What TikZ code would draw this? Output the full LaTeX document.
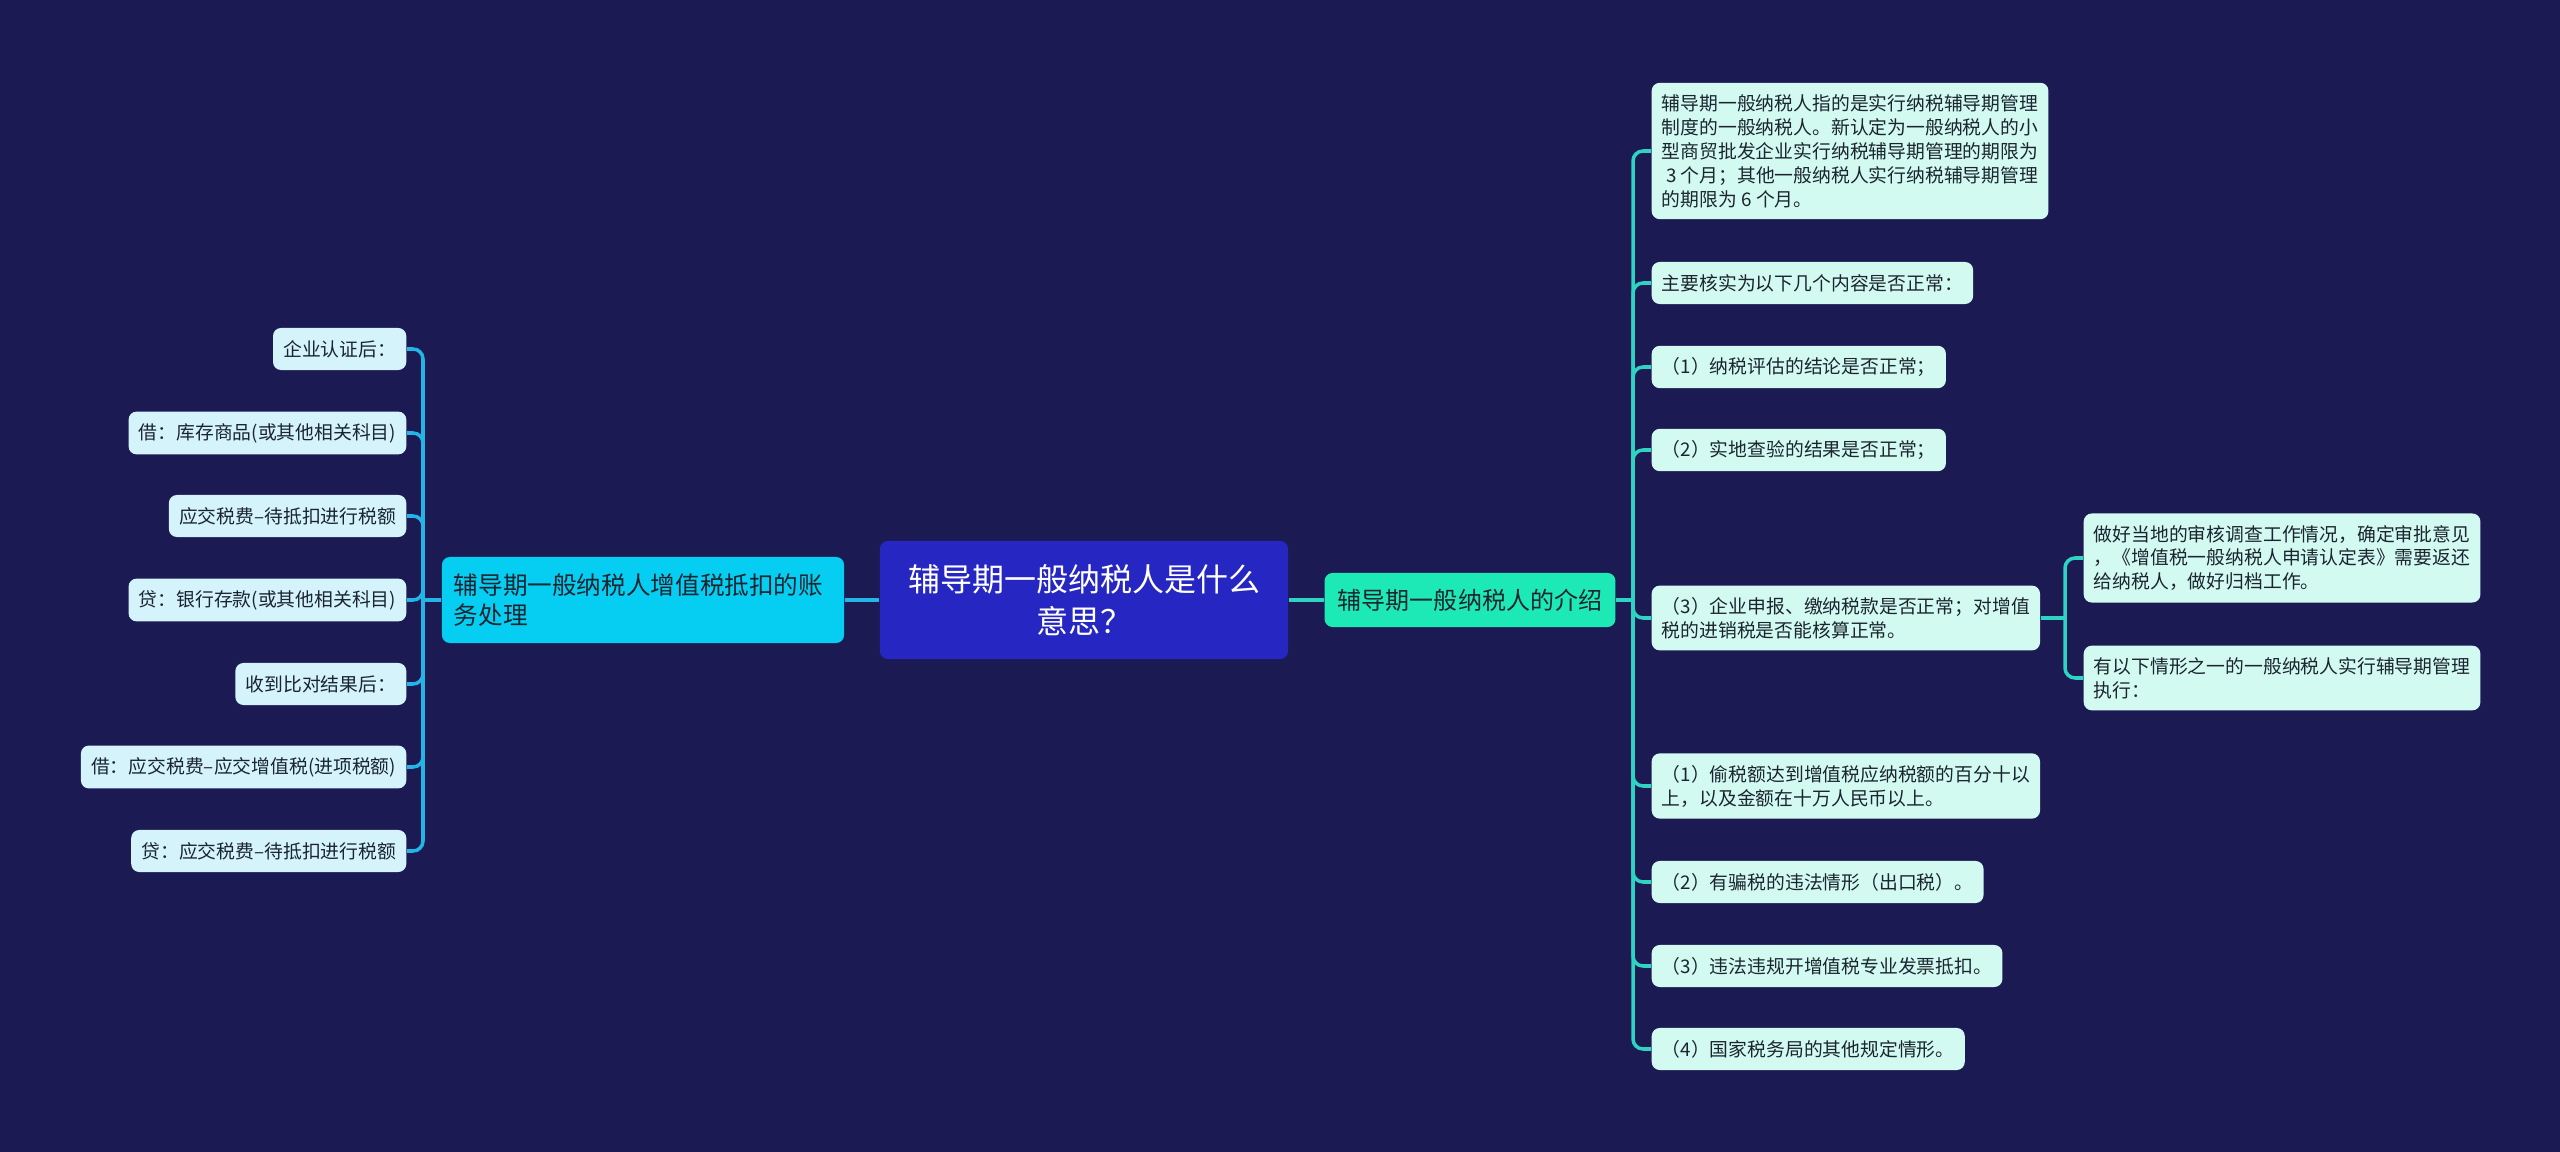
\documentclass[tikz,border=0pt]{standalone}
\usepackage{fontspec}
\setmainfont{Noto Sans CJK SC}
\definecolor{bgnavy}{HTML}{1C1A52}
\definecolor{rootblue}{HTML}{2626C2}
\definecolor{leftcyan}{HTML}{06CEF2}
\definecolor{rightgreen}{HTML}{1DE9B6}
\definecolor{leftline}{HTML}{22B5E6}
\definecolor{rightline}{HTML}{2ED3C2}
\definecolor{leafmint}{HTML}{D3FAF1}
\definecolor{leafsky}{HTML}{D4F3FB}
\definecolor{inkdark}{HTML}{1B2530}
\tikzset{
  leafR/.style={fill=leafmint, text=inkdark, rounded corners=0.08cm, inner xsep=2.9pt, inner ysep=3.3pt,
    minimum height=0.42cm, align=left, anchor=west, font=\fontsize{5.35pt}{6.8pt}\selectfont},
  leafL/.style={leafR, fill=leafsky, anchor=east},
  linkR/.style={draw=rightline, line width=1pt, rounded corners=0.1cm},
  linkL/.style={linkR, draw=leftline},
}
\begin{document}
\begin{tikzpicture}[x=0.01cm,y=-0.01cm]
\fill[bgnavy] (0,0) rectangle (2560,1152);

\node[fill=rootblue, text=white, rounded corners=0.08cm, minimum width=4.08cm, minimum height=1.18cm, align=center,
  font=\fontsize{9.1pt}{12pt}\selectfont] (root) at (1084,600) {辅导期一般纳税人是什么\\意思？};
\node[fill=leftcyan, text=inkdark, rounded corners=0.08cm, inner xsep=3.4pt, text width=3.78cm, minimum height=0.86cm,
  align=left, font=\fontsize{7pt}{8.5pt}\selectfont] (lmain) at (643,600) {辅导期一般纳税人增值税抵扣的账\\务处理};
\node[fill=rightgreen, text=inkdark, rounded corners=0.08cm, inner xsep=3.8pt, minimum height=0.54cm,
  font=\fontsize{6.83pt}{8pt}\selectfont] (rmain) at (1470,600) {辅导期一般纳税人的介绍};

% right side
\node[leafR] (r1) at (1651,151) {辅导期一般纳税人指的是实行纳税辅导期管理\\制度的一般纳税人。新认定为一般纳税人的小\\型商贸批发企业实行纳税辅导期管理的期限为\\~3 个月；其他一般纳税人实行纳税辅导期管理\\的期限为 6 个月。};
\node[leafR] (r2) at (1651,283) {主要核实为以下几个内容是否正常：};
\node[leafR] (r3) at (1651,367) {（1）纳税评估的结论是否正常；};
\node[leafR] (r4) at (1651,450) {（2）实地查验的结果是否正常；};
\node[leafR] (r5) at (1651,618) {（3）企业申报、缴纳税款是否正常；对增值\\税的进销税是否能核算正常。};
\node[leafR] (r6) at (1651,786) {（1）偷税额达到增值税应纳税额的百分十以\\上，以及金额在十万人民币以上。};
\node[leafR] (r7) at (1651,882) {（2）有骗税的违法情形（出口税）。};
\node[leafR] (r8) at (1651,966) {（3）违法违规开增值税专业发票抵扣。};
\node[leafR] (r9) at (1651,1049) {（4）国家税务局的其他规定情形。};
\node[leafR] (s1) at (2083,558) {做好当地的审核调查工作情况，确定审批意见\\，《增值税一般纳税人申请认定表》需要返还\\给纳税人，做好归档工作。};
\node[leafR] (s2) at (2083,678) {有以下情形之一的一般纳税人实行辅导期管理\\执行：};

% left side
\node[leafL] (l1) at (407,349) {企业认证后：};
\node[leafL] (l2) at (407,433) {借：库存商品(或其他相关科目)};
\node[leafL] (l3) at (407,516) {应交税费–待抵扣进行税额};
\node[leafL] (l4) at (407,600) {贷：银行存款(或其他相关科目)};
\node[leafL] (l5) at (407,684) {收到比对结果后：};
\node[leafL] (l6) at (407,767) {借：应交税费–应交增值税(进项税额)};
\node[leafL] (l7) at (407,851) {贷：应交税费–待抵扣进行税额};

\coordinate (rhub) at (1633,600);
\coordinate (shub) at (2065,618);
\coordinate (lhub) at (423,600);

\draw[linkL] (root.west) -- (lmain.east);
\draw[linkR] (root.east) -- (rmain.west);
\draw[linkR] (rmain.east) -- (rhub);
\draw[linkL] (lmain.west) -- (lhub);
\foreach \n in {r1,r2,r3,r4,r5,r6,r7,r8,r9}
  \draw[linkR] (rhub) |- (\n.west);
\draw[linkR] (r5.east) -- (shub);
\foreach \n in {s1,s2}
  \draw[linkR] (shub) |- (\n.west);
\foreach \n in {l1,l2,l3,l4,l5,l6,l7}
  \draw[linkL] (lhub) |- (\n.east);
\end{tikzpicture}
\end{document}
